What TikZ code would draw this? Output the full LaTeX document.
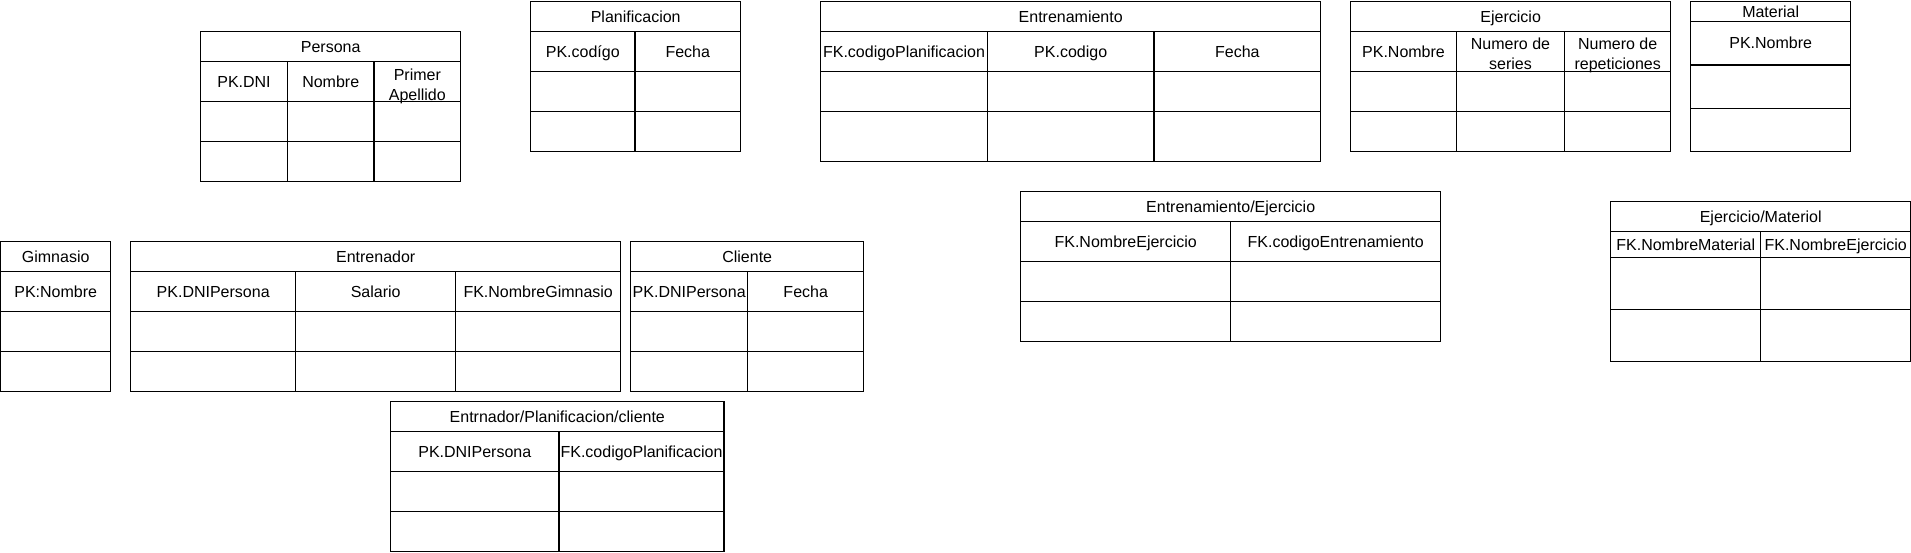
\documentclass[tikz,border=0pt]{standalone}
\usepackage{fontspec}
\setmainfont{Liberation Sans}
\usepackage{tikz}

\tikzset{
  tab/.style={line width=1.2pt},
  cell/.style={inner sep=0pt, text height=14.5pt, text depth=3.5pt},
  twoline/.style={inner sep=0pt, anchor=north, align=center}
}

\begin{document}
\begin{tikzpicture}[x=1pt, y=-1pt, font=\fontsize{16}{17.3}\selectfont]
        \useasboundingbox (0,0) rectangle (1911,552);

        % Persona
        \draw [tab] (200.7,31.7) rectangle (460.7,181.7);
        \draw [tab] (200.7,61.7) -- (460.7,61.7) (200.7,101.7) -- (460.7,101.7) (200.7,141.7) -- (460.7,141.7);
        \draw [tab] (287.4,61.7) -- (287.4,181.7) (374,61.7) -- (374,181.7);
        \node [cell] (persona) at (330.7,46.7) {Persona};
        \node [cell] (personaDNI) at (244,81.7) {PK.DNI};
        \node [cell] (personaNombre) at (330.7,81.7) {Nombre};
        \node [twoline] (personaApellido) at (417.3,68.8) {Primer\\[2.5pt]Apellido};

        % Planificacion
        \draw [tab] (530.7,1.7) rectangle (740.7,151.7);
        \draw [tab] (530.7,31.7) -- (740.7,31.7) (530.7,71.7) -- (740.7,71.7) (530.7,111.7) -- (740.7,111.7);
        \draw [tab] (635,31.7) -- (635,151.7);
        \node [cell] (planificacion) at (635.7,16.7) {Planificacion};
        \node [cell] (planificacionCodigo) at (582.8,51.7) {PK.codígo};
        \node [cell] (planificacionFecha) at (687.8,51.7) {Fecha};

        % Entrenamiento
        \draw [tab] (820.7,1.7) rectangle (1320.7,161.7);
        \draw [tab] (820.7,31.7) -- (1320.7,31.7) (820.7,71.7) -- (1320.7,71.7) (820.7,111.7) -- (1320.7,111.7);
        \draw [tab] (987.4,31.7) -- (987.4,161.7) (1154,31.7) -- (1154,161.7);
        \node [cell] (entrenamiento) at (1070.7,16.7) {Entrenamiento};
        \node [cell] (entrenamientoPlan) at (904,51.7) {FK.codigoPlanificacion};
        \node [cell] (entrenamientoCodigo) at (1070.7,51.7) {PK.codigo};
        \node [cell] (entrenamientoFecha) at (1237.3,51.7) {Fecha};

        % Ejercicio
        \draw [tab] (1350.7,1.7) rectangle (1670.7,151.7);
        \draw [tab] (1350.7,31.7) -- (1670.7,31.7) (1350.7,71.7) -- (1670.7,71.7) (1350.7,111.7) -- (1670.7,111.7);
        \draw [tab] (1456.3,31.7) -- (1456.3,151.7) (1564.7,31.7) -- (1564.7,151.7);
        \node [cell] (ejercicio) at (1510.7,16.7) {Ejercicio};
        \node [cell] (ejercicioNombre) at (1403.5,51.7) {PK.Nombre};
        \node [twoline] (ejercicioSeries) at (1510.5,38) {Numero de\\[2.5pt]series};
        \node [twoline] (ejercicioRep) at (1617.7,38) {Numero de\\[2.5pt]repeticiones};

        % Material
        \draw [tab] (1690.7,1.7) rectangle (1850.7,151.7);
        \draw [tab] (1690.7,21.7) -- (1850.7,21.7) (1690.7,65) -- (1850.7,65) (1690.7,108.3) -- (1850.7,108.3);
        \node [cell] (material) at (1770.7,11.7) {Material};
        \node [cell] (materialNombre) at (1770.7,43.3) {PK.Nombre};

        % Gimnasio
        \draw [tab] (0.7,241.7) rectangle (110.7,391.7);
        \draw [tab] (0.7,271.7) -- (110.7,271.7) (0.7,311.7) -- (110.7,311.7) (0.7,351.7) -- (110.7,351.7);
        \node [cell] (gimnasio) at (55.7,256.7) {Gimnasio};
        \node [cell] (gimnasioNombre) at (55.7,291.7) {PK:Nombre};

        % Entrenador
        \draw [tab] (130.7,241.7) rectangle (620.7,391.7);
        \draw [tab] (130.7,271.7) -- (620.7,271.7) (130.7,311.7) -- (620.7,311.7) (130.7,351.7) -- (620.7,351.7);
        \draw [tab] (295.7,271.7) -- (295.7,391.7) (455.7,271.7) -- (455.7,391.7);
        \node [cell] (entrenador) at (375.7,256.7) {Entrenador};
        \node [cell] (entrenadorDNI) at (213.2,291.7) {PK.DNIPersona};
        \node [cell] (entrenadorSalario) at (375.7,291.7) {Salario};
        \node [cell] (entrenadorGimnasio) at (538.2,291.7) {FK.NombreGimnasio};

        % Cliente
        \draw [tab] (630.7,241.7) rectangle (863.7,391.7);
        \draw [tab] (630.7,271.7) -- (863.7,271.7) (630.7,311.7) -- (863.7,311.7) (630.7,351.7) -- (863.7,351.7);
        \draw [tab] (747.7,271.7) -- (747.7,391.7);
        \node [cell] (cliente) at (747.2,256.7) {Cliente};
        \node [cell] (clienteDNI) at (689.2,291.7) {PK.DNIPersona};
        \node [cell] (clienteFecha) at (805.7,291.7) {Fecha};

        % Entrnador/Planificacion/cliente
        \draw [tab] (390.7,401.7) rectangle (724,551.7);
        \draw [tab] (390.7,431.7) -- (724,431.7) (390.7,471.7) -- (724,471.7) (390.7,511.7) -- (724,511.7);
        \draw [tab] (559,431.7) -- (559,551.7);
        \node [cell] (entPlanCli) at (557.3,416.7) {Entrnador/Planificacion/cliente};
        \node [cell] (entPlanCliDNI) at (474.8,451.7) {PK.DNIPersona};
        \node [cell] (entPlanCliPlan) at (641.5,451.7) {FK.codigoPlanificacion};

        % Entrenamiento/Ejercicio
        \draw [tab] (1020.7,191.7) rectangle (1440.7,341.7);
        \draw [tab] (1020.7,221.7) -- (1440.7,221.7) (1020.7,261.7) -- (1440.7,261.7) (1020.7,301.7) -- (1440.7,301.7);
        \draw [tab] (1230.7,221.7) -- (1230.7,341.7);
        \node [cell] (entEjer) at (1230.7,206.7) {Entrenamiento/Ejercicio};
        \node [cell] (entEjerNombre) at (1125.7,241.7) {FK.NombreEjercicio};
        \node [cell] (entEjerCodigo) at (1335.7,241.7) {FK.codigoEntrenamiento};

        % Ejercicio/Materiol
        \draw [tab] (1610.7,201.7) rectangle (1910.4,361.7);
        \draw [tab] (1610.7,231.7) -- (1910.4,231.7) (1610.7,257.7) -- (1910.4,257.7) (1610.7,309.7) -- (1910.4,309.7);
        \draw [tab] (1760.7,231.7) -- (1760.7,361.7);
        \node [cell] (ejerMat) at (1760.7,216.7) {Ejercicio/Materiol};
        \node [cell] (ejerMatMaterial) at (1685.7,244.7) {FK.NombreMaterial};
        \node [cell] (ejerMatEjercicio) at (1835.7,244.7) {FK.NombreEjercicio};
    \end{tikzpicture}
\end{document}
